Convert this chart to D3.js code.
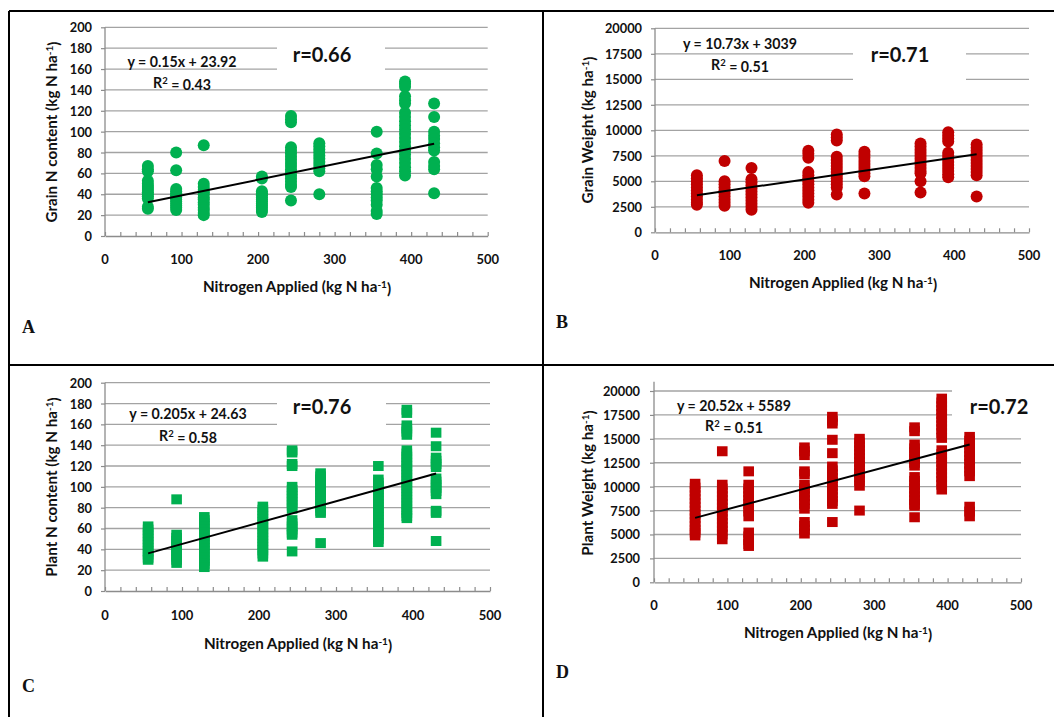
<!DOCTYPE html>
<html>
<head>
<meta charset="utf-8">
<script src="https://cdn.jsdelivr.net/npm/d3@7/dist/d3.min.js"></script>
<style>
  html, body { margin: 0; padding: 0; background: #fff; }
  svg { display: block; }
  text { font-family: Lato, "Noto Sans", sans-serif; font-weight: bold; fill: #111; }
  .letter { font-family: "Liberation Serif", "Times New Roman", serif; }
</style>
</head>
<body>
<svg id="fig" width="1054" height="717"></svg>
<script>
// Nitrogen rates applied (kg N ha-1); one group of plot observations per rate
const nRates = [56, 93, 129, 205, 243, 280, 355, 392, 430];

// A: grain N content (kg N ha-1)
const grainN = [
  [67, 64, 62, 53, 50, 48, 46, 44, 42, 40, 38, 36, 28, 26],
  [80, 63, 45, 43, 41, 39, 37, 35, 33, 31, 29, 27, 25],
  [87, 50, 47, 44, 42, 40, 37, 35, 32, 30, 27, 25, 22, 20],
  [57, 55, 43, 41, 39, 37, 35, 33, 31, 29, 27, 25, 23],
  [115, 112, 109, 85, 82, 79, 76, 73, 70, 67, 64, 61, 58, 55, 52, 49, 47, 34],
  [89, 86, 83, 80, 77, 74, 71, 68, 65, 62, 40],
  [100, 79, 68, 64, 57, 46, 43, 40, 37, 34, 30, 24, 21],
  [148, 146, 143, 134, 130, 127, 118, 114, 110, 106, 102, 98, 94, 90, 86, 82, 78, 74, 70, 66, 62, 58],
  [127, 114, 100, 96, 93, 89, 85, 82, 71, 67, 64, 41]
];

// B: grain weight (kg ha-1)
const grainWeight = [
  [5600, 5300, 5000, 4700, 4400, 4100, 3800, 3500, 3200, 2900, 2700],
  [7000, 5000, 4700, 4400, 4100, 3800, 3500, 3200, 2900, 2600],
  [6300, 5200, 4900, 4600, 4300, 4000, 3700, 3400, 3100, 2800, 2500, 2200],
  [8000, 7700, 7300, 5900, 5600, 5300, 5000, 4700, 4400, 4100, 3800, 3500, 3200, 2900],
  [9600, 9300, 9000, 7400, 7100, 6800, 6500, 6200, 5900, 5600, 5300, 5000, 4700, 4400, 3700],
  [7900, 7600, 7300, 7000, 6700, 6400, 6100, 5800, 5500, 3800],
  [8700, 8400, 8100, 7800, 7500, 7200, 6900, 6600, 6300, 6000, 5800, 5000, 3900],
  [9800, 9500, 9200, 8900, 7800, 7500, 7200, 6900, 6600, 6300, 6000, 5700, 5400],
  [8600, 8300, 8000, 7700, 7400, 7100, 6800, 6500, 6200, 5900, 5600, 3500]
];

// C: plant N content (kg N ha-1)
const plantN = [
  [62, 59, 56, 53, 50, 47, 44, 41, 38, 35, 32, 30],
  [88, 54, 51, 48, 45, 42, 39, 36, 33, 30, 27],
  [71, 68, 65, 62, 59, 56, 53, 50, 47, 44, 41, 38, 35, 32, 29, 26, 23],
  [81, 78, 75, 72, 69, 66, 63, 60, 57, 54, 51, 48, 45, 42, 39, 36, 33],
  [135, 133, 122, 120, 100, 97, 94, 91, 88, 85, 82, 79, 68, 65, 62, 59, 56, 54, 38],
  [113, 110, 107, 104, 101, 98, 95, 92, 89, 86, 83, 80, 77, 75, 46],
  [120, 107, 104, 101, 98, 95, 92, 89, 86, 83, 80, 77, 74, 71, 68, 65, 62, 59, 56, 53, 50, 47],
  [174, 171, 159, 156, 153, 150, 135, 132, 129, 126, 123, 120, 117, 114, 111, 108, 105, 102, 99, 96, 93, 90, 87, 84, 81, 78, 75, 72, 70],
  [152, 139, 128, 125, 122, 119, 108, 105, 102, 99, 96, 93, 77, 75, 48]
];

// D: plant weight (kg ha-1)
const plantWeight = [
  [10300, 9900, 9500, 9100, 8700, 8300, 7900, 7500, 7100, 6700, 6300, 5900, 5500, 5200, 4900],
  [13700, 10200, 9800, 9400, 9000, 8600, 8200, 7800, 7400, 7000, 6600, 6200, 5800, 5400, 5000, 4500],
  [11600, 10200, 9800, 9400, 9000, 8600, 8200, 7800, 7400, 6900, 5200, 4800, 4400, 4000, 3800],
  [14100, 13700, 13300, 11600, 11300, 10200, 9800, 9400, 9000, 8600, 8200, 7700, 6300, 5900, 5500, 5100],
  [17300, 16900, 16600, 14900, 13500, 12100, 11700, 11300, 10900, 10500, 10100, 9700, 9300, 8900, 8500, 8200, 6300],
  [15000, 14600, 14200, 13800, 13400, 13000, 12600, 12200, 11800, 11400, 11000, 10600, 10100, 7500],
  [16200, 15800, 14400, 14000, 13600, 13300, 12900, 12500, 12200, 11000, 10600, 10200, 9800, 9400, 9000, 8600, 8200, 8000, 6800],
  [19200, 18800, 18400, 18000, 17600, 17200, 16800, 16400, 16000, 15600, 15100, 13800, 13400, 13000, 12600, 12200, 11800, 11400, 11000, 10600, 10200, 9700],
  [15200, 14800, 14400, 14000, 13600, 13200, 12800, 12400, 12000, 11600, 11100, 7900, 7400, 6900]
];

// Linear fits and correlation coefficients, panels A-D
const fitSlope = [0.15, 10.73, 0.205, 20.52];
const fitIntercept = [23.92, 3039, 24.63, 5589];
const rSquared = ["0.43", "0.51", "0.58", "0.51"];
const rValue = ["0.66", "0.71", "0.76", "0.72"];

// Axis ticks and titles
const xTickValues = [0, 100, 200, 300, 400, 500];
const nContentTicks = [0, 20, 40, 60, 80, 100, 120, 140, 160, 180, 200];
const weightTicks = [0, 2500, 5000, 7500, 10000, 12500, 15000, 17500, 20000];
const yTitles = ["Grain N content (kg N ha", "Grain Weight (kg ha", "Plant N content (kg N ha", "Plant Weight (kg ha"];
const xTitle = "Nitrogen Applied (kg N ha";
const panelLetters = ["A", "B", "C", "D"];

const GREEN = "#00b050";
const RED = "#c00000";
const GRID = "#a3a3a3";

const svg = d3.select("#fig");

// Panel frame lines
const frame = svg.append("g").attr("stroke", "#000").attr("stroke-width", 2);
frame.append("line").attr("x1", 9).attr("x2", 1054).attr("y1", 11).attr("y2", 11);
frame.append("line").attr("x1", 9).attr("x2", 9).attr("y1", 11).attr("y2", 717);
frame.append("line").attr("x1", 543).attr("x2", 543).attr("y1", 11).attr("y2", 717);
frame.append("line").attr("x1", 9).attr("x2", 1054).attr("y1", 365).attr("y2", 365);

const panels = [
  { data: grainN, ticks: nContentTicks, yMax: 200, color: GREEN, marker: "circle",
    left: 105, right: 487.7, top: 27.3, bottom: 236, axisTop: 27.3,
    yLabelRight: 92, yTitleX: 52, yTitleY: 132, xLabelY: 259, xTitleX: 297, xTitleY: 287,
    eqX: 182, eqY: 62, r2Y: 83, rX: 322, rY: 55, box: [277, 34, 108, 42],
    letterX: 22, letterY: 333 },
  { data: grainWeight, ticks: weightTicks, yMax: 20000, color: RED, marker: "circle",
    left: 655, right: 1029, top: 28.3, bottom: 232.3, axisTop: 28.3,
    yLabelRight: 642, yTitleX: 588, yTitleY: 130, xLabelY: 255, xTitleX: 843, xTitleY: 283,
    eqX: 740, eqY: 44, r2Y: 65, rX: 900, rY: 55, box: [853, 36, 113, 50],
    letterX: 556, letterY: 328 },
  { data: plantN, ticks: nContentTicks, yMax: 200, color: GREEN, marker: "square",
    left: 105, right: 490, top: 382.7, bottom: 591, axisTop: 382.7,
    yLabelRight: 92, yTitleX: 52, yTitleY: 487, xLabelY: 615, xTitleX: 298, xTitleY: 644,
    eqX: 188, eqY: 414, r2Y: 436, rX: 322, rY: 407, box: [277, 391, 109, 40],
    letterX: 22, letterY: 692 },
  { data: plantWeight, ticks: weightTicks, yMax: 20000, color: RED, marker: "square",
    left: 654, right: 1021, top: 391, bottom: 582.3, axisTop: 381.7,
    yLabelRight: 640, yTitleX: 588, yTitleY: 483, xLabelY: 605, xTitleX: 838, xTitleY: 633,
    eqX: 734, eqY: 406, r2Y: 426, rX: 999, rY: 407, box: [952, 385, 80, 45],
    letterX: 556, letterY: 678 }
];

panels.forEach((p, i) => {
  const g = svg.append("g");
  const x = d3.scaleLinear().domain([0, 500]).range([p.left, p.right]);
  const y = d3.scaleLinear().domain([0, p.yMax]).range([p.bottom, p.top]);

  // horizontal gridlines
  g.append("g").selectAll("line").data(p.ticks.filter(t => t > 0)).join("line")
    .attr("x1", p.left).attr("x2", p.right)
    .attr("y1", d => y(d)).attr("y2", d => y(d))
    .attr("stroke", GRID).attr("stroke-width", 1.3);

  // y axis with outside ticks
  const yAxis = g.append("g").attr("transform", `translate(${p.left},0)`)
    .call(d3.axisLeft(y).tickValues(p.ticks).tickSize(4).tickSizeOuter(0).tickFormat(d3.format("d")));
  yAxis.select(".domain").attr("stroke", "#8c8c8c").attr("stroke-width", 1.3)
    .attr("d", `M0,${p.bottom}V${p.axisTop}`);
  yAxis.selectAll(".tick line").attr("stroke", "#8c8c8c").attr("stroke-width", 1.2);
  yAxis.selectAll(".tick text").attr("x", p.yLabelRight - p.left).attr("dy", "0.35em")
    .style("font-size", "12.8px").style("fill", "#111");

  // x axis: minor ticks every 20, labels every 100
  const xAxis = g.append("g").attr("transform", `translate(0,${p.bottom})`)
    .call(d3.axisBottom(x).tickValues(d3.range(0, 501, 20)).tickSize(-4).tickSizeOuter(0).tickFormat(""));
  xAxis.select(".domain").attr("stroke", "#8c8c8c").attr("stroke-width", 1.3);
  xAxis.selectAll(".tick line").attr("stroke", "#8c8c8c").attr("stroke-width", 1.2);
  g.append("g").selectAll("text").data(xTickValues).join("text")
    .attr("x", d => x(d)).attr("y", p.xLabelY).attr("dy", "0.35em")
    .attr("text-anchor", "middle").style("font-size", "13px").text(d => d);

  // white box behind the correlation label
  g.append("rect").attr("x", p.box[0]).attr("y", p.box[1])
    .attr("width", p.box[2]).attr("height", p.box[3]).attr("fill", "#fff");

  // observations
  const pts = p.data.flatMap((vals, k) => vals.map(v => ({ n: nRates[k], v })));
  if (p.marker === "circle") {
    g.append("g").selectAll("circle").data(pts).join("circle")
      .attr("cx", d => x(d.n)).attr("cy", d => y(d.v)).attr("r", 6).attr("fill", p.color);
  } else {
    g.append("g").selectAll("rect").data(pts).join("rect")
      .attr("x", d => x(d.n) - 5.3).attr("y", d => y(d.v) - 5)
      .attr("width", 10.6).attr("height", 10).attr("fill", p.color);
  }

  // linear trend line over the applied range
  const [n0, n1] = d3.extent(nRates);
  const fit = n => fitSlope[i] * n + fitIntercept[i];
  g.append("line")
    .attr("x1", x(n0)).attr("y1", y(fit(n0)))
    .attr("x2", x(n1)).attr("y2", y(fit(n1)))
    .attr("stroke", "#000").attr("stroke-width", 2);

  // equation, R squared and r
  g.append("text").attr("x", p.eqX).attr("y", p.eqY).attr("dy", "0.35em")
    .attr("text-anchor", "middle").style("font-size", "14.2px")
    .text(`y = ${fitSlope[i]}x + ${fitIntercept[i]}`);
  const r2 = g.append("text").attr("x", p.eqX).attr("y", p.r2Y).attr("dy", "0.35em")
    .attr("text-anchor", "middle").style("font-size", "14.2px");
  r2.append("tspan").text("R");
  r2.append("tspan").attr("dy", "-0.4em").style("font-size", "9.5px").text("2");
  r2.append("tspan").attr("dy", "0.4em").text(` = ${rSquared[i]}`);
  g.append("text").attr("x", p.rX).attr("y", p.rY).attr("dy", "0.35em")
    .attr("text-anchor", "middle").style("font-size", "20px").text(`r=${rValue[i]}`);

  // axis titles
  const yt = g.append("text")
    .attr("transform", `translate(${p.yTitleX},${p.yTitleY}) rotate(-90)`)
    .attr("dy", "0.35em").attr("text-anchor", "middle").style("font-size", "15.2px");
  yt.append("tspan").text(yTitles[i]);
  yt.append("tspan").attr("dy", "-0.4em").style("font-size", "10px").text("-1");
  yt.append("tspan").attr("dy", "0.4em").text(")");

  const xt = g.append("text").attr("x", p.xTitleX).attr("y", p.xTitleY)
    .attr("dy", "0.35em").attr("text-anchor", "middle").style("font-size", "15.2px");
  xt.append("tspan").text(xTitle);
  xt.append("tspan").attr("dy", "-0.4em").style("font-size", "10px").text("-1");
  xt.append("tspan").attr("dy", "0.4em").text(")");

  // panel letter
  g.append("text").attr("class", "letter").attr("x", p.letterX).attr("y", p.letterY)
    .style("font-size", "18px").text(panelLetters[i]);
});
</script>
</body>
</html>
